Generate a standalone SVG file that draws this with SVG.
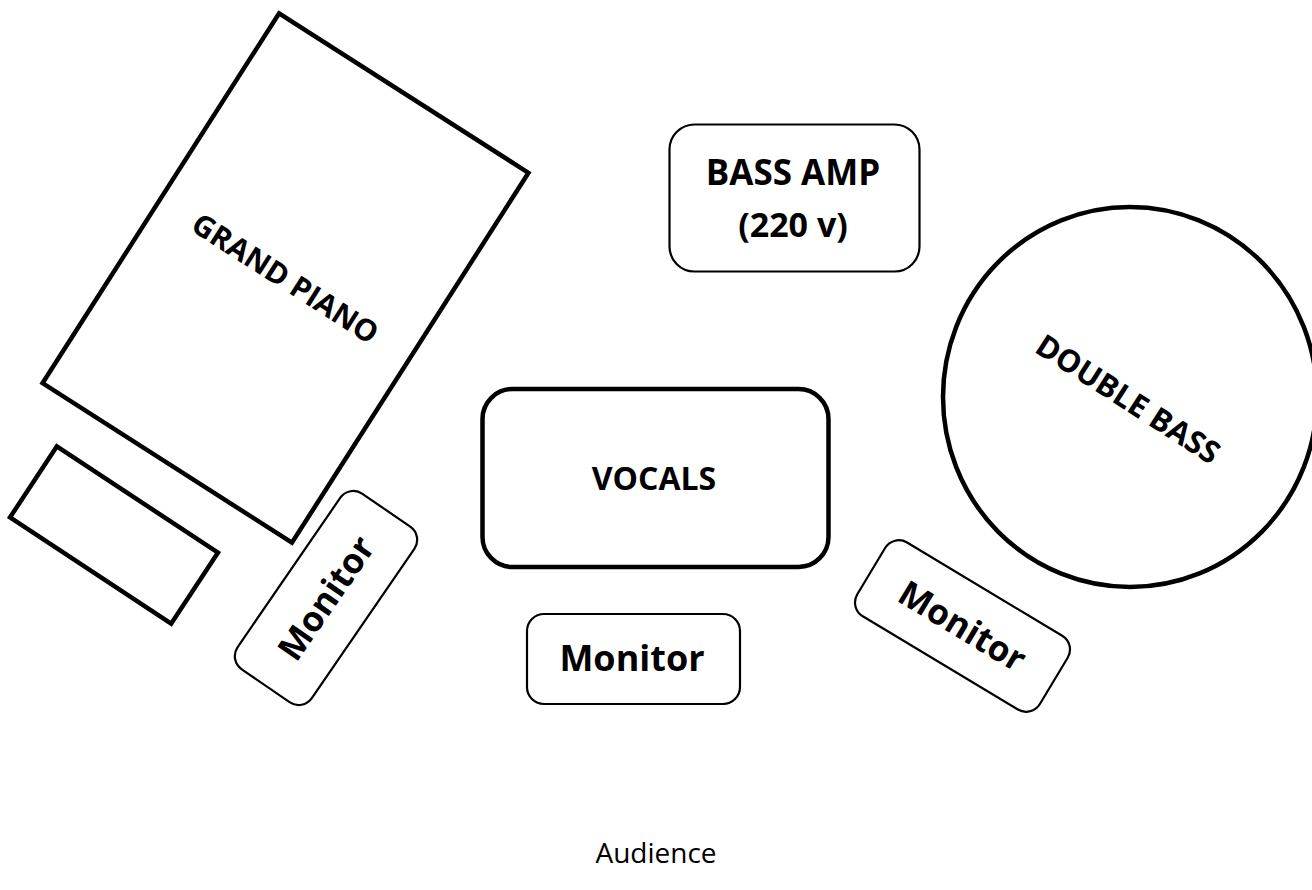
<svg xmlns="http://www.w3.org/2000/svg" width="1312" height="890" viewBox="0 0 1312 890">
<style>
.thick{fill:#fff;stroke:#000;stroke-width:4.5}
.thin{fill:#fff;stroke:#000;stroke-width:2.2}
.lbl{font-family:"Open Sans","Liberation Sans",sans-serif;font-weight:bold;fill:#000;text-anchor:middle}
.aud{font-family:"Open Sans","Liberation Sans",sans-serif;fill:#000;text-anchor:middle;font-size:28px}
</style>
<rect width="1312" height="890" fill="#fff"/>
<g id="grand-piano" transform="rotate(32.6 285.5 278)">
<rect class="thick" x="137.5" y="58.5" width="296" height="439"/>
<text class="lbl" x="285.5" y="289" font-size="30">GRAND PIANO</text>
</g>
<g id="piano-bench" transform="rotate(33.4 114 535)">
<rect class="thick" x="17.5" y="492.5" width="193" height="85"/>
</g>
<g id="monitor-left" transform="rotate(-55.5 326 598)">
<rect class="thin" x="219.5" y="553" width="213" height="90" rx="16"/>
<text class="lbl" x="326" y="610.5" font-size="35">Monitor</text>
</g>
<g id="bass-amp">
<rect class="thin" x="669.5" y="124.5" width="250" height="147" rx="25"/>
<text class="lbl" x="793" y="185" font-size="35">BASS AMP</text>
<text class="lbl" x="793" y="237" font-size="34">(220 v)</text>
</g>
<g id="double-bass">
<ellipse class="thick" cx="1130" cy="397" rx="187" ry="190"/>
<text class="lbl" x="1128" y="410" font-size="31" transform="rotate(32.7 1128 399)">DOUBLE BASS</text>
</g>
<g id="vocals">
<rect class="thick" x="482.5" y="389" width="346" height="178" rx="30"/>
<text class="lbl" x="654" y="490" font-size="32">VOCALS</text>
</g>
<g id="monitor-center">
<rect class="thin" x="527" y="614" width="213" height="90" rx="17"/>
<text class="lbl" x="632" y="671" font-size="36">Monitor</text>
</g>
<g id="monitor-right" transform="rotate(31 962.5 626)">
<rect class="thin" x="856" y="583" width="213" height="86" rx="16"/>
<text class="lbl" x="962.5" y="638.5" font-size="35">Monitor</text>
</g>
<g id="connectors"></g>
<g id="audience">
<text class="aud" x="656" y="863">Audience</text>
</g>
</svg>
